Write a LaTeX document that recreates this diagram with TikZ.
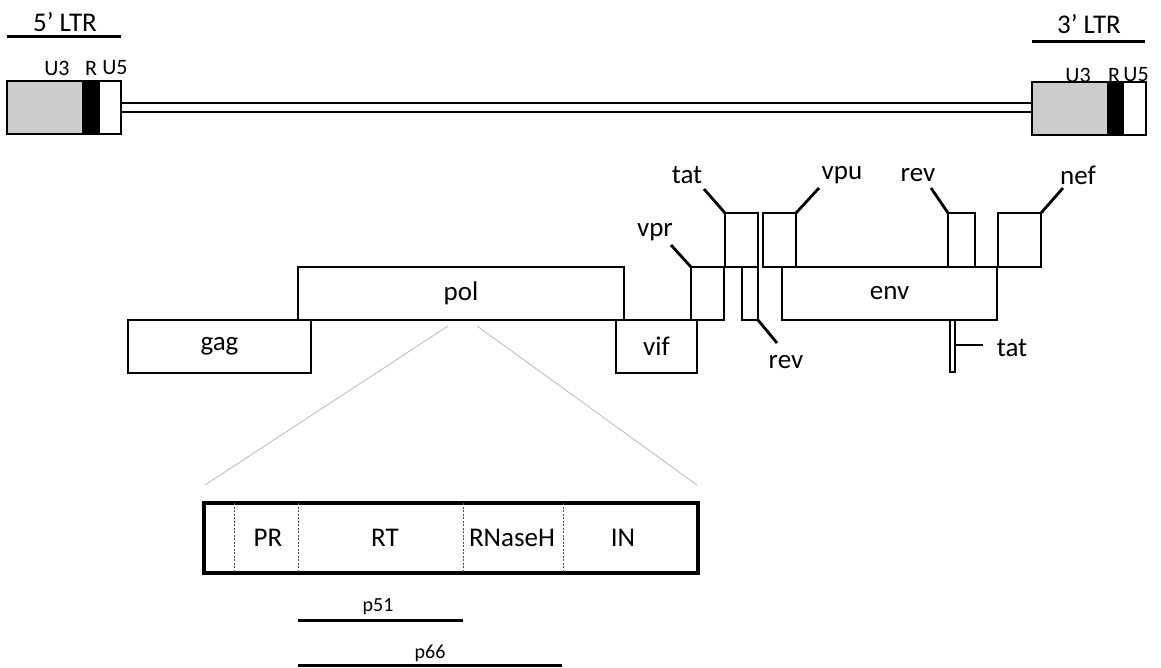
\documentclass[tikz,border=0pt]{standalone}
\usepackage{fontspec}
\setmainfont{Carlito}
\begin{document}
\begin{tikzpicture}[x=1pt,y=-1pt,
  gene/.style={draw, line width=1.3pt, inner sep=0pt, outer sep=0pt, anchor=north west, font=\fontsize{27}{30}\selectfont},
  seg/.style={draw, line width=1.3pt, inner sep=0pt, outer sep=0pt, anchor=north west, minimum height=53pt},
  lbl/.style={inner sep=0pt, font=\fontsize{27}{30}\selectfont},
  small/.style={inner sep=0pt, font=\fontsize{20}{24}\selectfont},
  ulbl/.style={inner sep=0pt, font=\fontsize{22}{26}\selectfont},
  tick/.style={line width=2.8pt},
  bar/.style={line width=3pt},
  dbl/.style={line width=2.8pt},
  zoomline/.style={line width=0.8pt, draw=gray!55},
  divider/.style={line width=0.7pt, draw=gray!60!black, dash pattern=on 2pt off 1.5pt},
  polbox/.style={draw, line width=3.5pt, inner sep=0pt, outer sep=0pt, anchor=north west}]
\useasboundingbox (0,0) rectangle (1161,668);

% ---------- LTRs ----------
\node[lbl] (t5) at (65,22) {5’ LTR};
\coordinate (b5a) at (7,37); \coordinate (b5b) at (121,37);
\draw[bar] (b5a) -- (b5b);
\node[lbl] (t3) at (1089,24) {3’ LTR};
\coordinate (b3a) at (1032,42); \coordinate (b3b) at (1145,42);
\draw[bar] (b3a) -- (b3b);

\node[seg, fill=gray!40, minimum width=76pt] (l5u3) at (7,81) {};
\node[seg, fill=black, minimum width=16pt] (l5r) at (83,81) {};
\node[seg, fill=white, minimum width=22pt] (l5u5) at (99,81) {};
\node[ulbl] (l5u3t) at (57,68) {U3};
\node[ulbl] (l5rt) at (91,68) {R};
\node[ulbl] (l5u5t) at (115,68) {U5};

\node[seg, fill=gray!40, minimum width=76pt] (l3u3) at (1032,82) {};
\node[seg, fill=black, minimum width=15pt] (l3r) at (1108,82) {};
\node[seg, fill=white, minimum width=23pt] (l3u5) at (1123,82) {};
\node[ulbl] (l3u3t) at (1078,75) {U3};
\node[ulbl] (l3rt) at (1114,75) {R};
\node[ulbl] (l3u5t) at (1136,75) {U5};

\coordinate (ya) at (0,103); \coordinate (yb) at (0,112);
\draw[dbl] (l5u5.east |- ya) -- (l3u3.west |- ya);
\draw[dbl] (l5u5.east |- yb) -- (l3u3.west |- yb);

% ---------- genes ----------
\node[gene, minimum width=183pt, minimum height=53pt] (gag) at (128,320) {gag};
\node[gene, minimum width=326pt, minimum height=53pt] (pol) at (298,267) {pol};
\node[gene, minimum width=81pt, minimum height=53pt] (vif) at (616,320) {vif};
\node[gene, minimum width=33pt, minimum height=53pt] (vpr) at (691,267) {};
\node[gene, minimum width=33pt, minimum height=54pt] (tatA) at (725,213) {};
\node[gene, minimum width=16pt, minimum height=53pt] (revA) at (742,267) {};
\node[gene, minimum width=33pt, minimum height=54pt] (vpu) at (763,213) {};
\node[gene, minimum width=215pt, minimum height=53pt] (env) at (782,267) {env};
\node[gene, minimum width=27pt, minimum height=54pt] (revB) at (948,213) {};
\node[gene, minimum width=43pt, minimum height=54pt] (nef) at (998,213) {};
\node[gene, minimum width=5pt, minimum height=52pt] (tatB) at (950,320) {};

% gene labels with leader lines
\node[lbl] (vprl) at (655,232) {vpr};
\coordinate (vprc) at (671,245);
\draw[tick] (vprc) -- (vpr.north west);

\node[lbl] (tatAl) at (687,175) {tat};
\coordinate (tatAc) at (704,189);
\draw[tick] (tatAc) -- (tatA.north west);

\node[lbl] (revAl) at (786,362) {rev};
\coordinate (revAc) at (777,343);
\draw[tick] (revA.south east) -- (revAc);

\node[lbl] (vpul) at (842,175) {vpu};
\coordinate (vpuc) at (819,188);
\draw[tick] (vpuc) -- (vpu.north east);

\node[lbl] (revBl) at (918,175) {rev};
\coordinate (revBc) at (931,188);
\draw[tick] (revBc) -- (revB.north west);

\node[lbl] (nefl) at (1078,175) {nef};
\coordinate (nefc) at (1063,188);
\draw[tick] (nefc) -- (nef.north east);

\node[lbl] (tatBl) at (1012,348) {tat};
\coordinate (tatBc) at (983,345);
\draw[tick] (tatB.east |- tatBc) -- (tatBc);

% ---------- zoom lines ----------
\coordinate (zl1) at (448,326); \coordinate (zl2) at (205,485);
\coordinate (zr1) at (477,326); \coordinate (zr2) at (697,485);
\draw[zoomline] (zl1) -- (zl2);
\draw[zoomline] (zr1) -- (zr2);

% ---------- pol domains ----------
\node[polbox, minimum width=494pt, minimum height=70pt] (pold) at (204,503) {};
\foreach \xx in {234,298,463,563} {
  \draw[divider] (\xx,503) -- (\xx,573);
}
\node[lbl] (pr) at (268,538) {PR};
\node[lbl] (rt) at (385,538) {RT};
\node[lbl] (rnh) at (512,538) {RNaseH};
\node[lbl] (in) at (623,538) {IN};

\coordinate (p51a) at (298,620); \coordinate (p51b) at (463,620);
\draw[bar] (p51a) -- (p51b);
\node[small] (p51) at (378,607) {p51};
\coordinate (p66a) at (298,665); \coordinate (p66b) at (562,665);
\draw[bar] (p66a) -- (p66b);
\node[small] (p66) at (430,653) {p66};
\end{tikzpicture}
\end{document}
